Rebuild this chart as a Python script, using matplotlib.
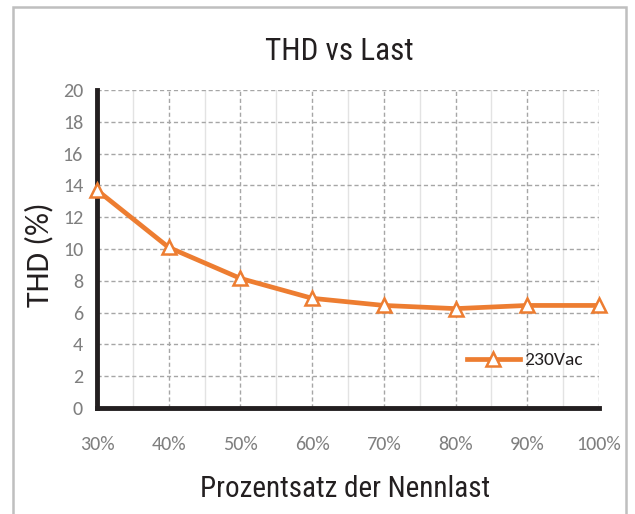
import matplotlib
matplotlib.use("Agg")
import matplotlib.pyplot as plt
from matplotlib.patches import Rectangle

categories = ["30%", "40%", "50%", "60%", "70%", "80%", "90%", "100%"]
thd_230 = [13.7, 10.1, 8.15, 6.9, 6.45, 6.25, 6.45, 6.45]
yticks = [0, 2, 4, 6, 8, 10, 12, 14, 16, 18, 20]
series_label = "230Vac"

narrow = ["Roboto Condensed", "DejaVu Sans"]
body = ["Carlito", "DejaVu Sans"]

fig = plt.figure(figsize=(6.35, 5.14), dpi=100)
fig.patches.append(Rectangle((13/635, -0.1), (626-13)/635, 1.1 - 7/514,
                             transform=fig.transFigure, fill=False,
                             edgecolor="#bfbfbf", linewidth=1.8))

ax = fig.add_axes([97/635, 1-408/514, (599-97)/635, (408-90)/514])
x = list(range(len(categories)))

# grid
for v in yticks[1:]:
    ax.axhline(v, color="#a6a6a6", linestyle=(0, (3, 2)), linewidth=1.0, zorder=1)
for xi in x[1:]:
    ax.axvline(xi, color="#a6a6a6", linestyle=(0, (3, 2)), linewidth=1.0, zorder=1)
for xi in x[:-1]:
    ax.axvline(xi + 0.5, color="#e3e3e3", linestyle="-", linewidth=1.0, zorder=0.5)

ax.plot(x, thd_230, color="#ED7D31", linewidth=3.4, marker="^", markersize=9.5,
        markerfacecolor="white", markeredgecolor="#ED7D31", markeredgewidth=1.8,
        label=series_label, zorder=3, clip_on=False)

ax.set_xlim(0, len(categories) - 1)
ax.set_ylim(0, 20)
ax.set_xticks(x)
ax.set_xticklabels(categories)
ax.set_yticks(yticks)
for lab in ax.get_xticklabels() + ax.get_yticklabels():
    lab.set_fontfamily(body)
    lab.set_fontsize(14.5)
    lab.set_color("#7f7f7f")
ax.tick_params(axis="both", length=0)
ax.tick_params(axis="x", pad=20)
ax.tick_params(axis="y", pad=10)

for s in ["top", "right"]:
    ax.spines[s].set_visible(False)
for s in ["left", "bottom"]:
    ax.spines[s].set_linewidth(3.5)
    ax.spines[s].set_color("#231f20")
    ax.spines[s].set_capstyle("projecting")

fig.text(339/635, 1-60/514, "THD vs Last", ha="center", va="baseline",
         family=narrow, fontsize=22.5, color="#231f20")
fig.text(345/635, 1-497/514, "Prozentsatz der Nennlast", ha="center", va="baseline",
         family=narrow, fontsize=21, color="#231f20")
fig.text(39/635, 1-255/514, "THD (%)", ha="center", va="center", rotation=90,
         family=body, fontsize=23, color="#231f20")

leg = ax.legend(loc="center left", bbox_to_anchor=(467/635, 1-360/514),
                bbox_transform=fig.transFigure, frameon=False,
                prop={"family": body, "size": 14}, handlelength=2.7,
                handletextpad=0.25, borderpad=0, borderaxespad=0)
for t in leg.get_texts():
    t.set_color("#231f20")

fig.savefig("out.png", dpi=100)
